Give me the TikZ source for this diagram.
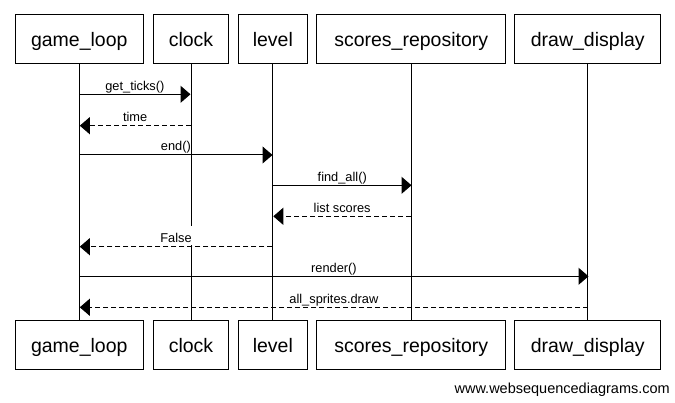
\documentclass[tikz,border=0pt]{standalone}
\usepackage{fontspec}
\setmainfont{Liberation Sans}
\usetikzlibrary{arrows.meta}
\tikzset{
  actor/.style={draw=black, line width=1pt, fill=white, minimum height=48.7pt, inner sep=0pt,
     font=\fontsize{19.5}{22}\selectfont, text height=18pt, text depth=3.2pt},
  lifeline/.style={draw=black, line width=1pt},
  msg/.style={draw=black, line width=1pt, -{Triangle[length=10pt,width=17pt]}, shorten >=0pt},
  reply/.style={msg, dash pattern=on 5pt off 3pt},
  lbl/.style={anchor=base, inner sep=0pt, font=\fontsize{12.8}{14}\selectfont},
  lblbg/.style={lbl, fill=white, inner xsep=1pt, text height=16.7pt, text depth=2.3pt},
}
\begin{document}
\begin{tikzpicture}[x=1pt,y=-1pt]
\useasboundingbox (0,0) rectangle (675,403);
% top actors
\node[actor, minimum width=128pt] (glT) at (79.3,39.3) {game\_loop};
\node[actor, minimum width=75.4pt] (ckT) at (191,39.3) {clock};
\node[actor, minimum width=69pt] (lvT) at (272.8,39.3) {level};
\node[actor, minimum width=189pt] (srT) at (411.2,39.3) {scores\_repository};
\node[actor, minimum width=145.7pt] (ddT) at (587.8,39.3) {draw\_display};
% bottom actors
\node[actor, minimum width=128pt] (glB) at (79.3,344.8) {game\_loop};
\node[actor, minimum width=75.4pt] (ckB) at (191,344.8) {clock};
\node[actor, minimum width=69pt] (lvB) at (272.8,344.8) {level};
\node[actor, minimum width=189pt] (srB) at (411.2,344.8) {scores\_repository};
\node[actor, minimum width=145.7pt] (ddB) at (587.8,344.8) {draw\_display};
% lifelines
\draw[lifeline] (glT.south) -- (glB.north);
\draw[lifeline] (ckT.south) -- (ckB.north);
\draw[lifeline] (lvT.south) -- (lvB.north);
\draw[lifeline] (srT.south) -- (srB.north);
\draw[lifeline] (ddT.south) -- (ddB.north);
% message endpoints
\coordinate (gl1) at (79.3,94.3);  \coordinate (ck1) at (190.5,94.3);
\coordinate (ck2) at (190.5,125.7); \coordinate (gl2) at (79.8,125.7);
\coordinate (gl3) at (79.3,155);   \coordinate (lv3) at (272.5,155);
\coordinate (lv4) at (273,185.3);  \coordinate (sr4) at (411.5,185.3);
\coordinate (sr5) at (411,216.3);  \coordinate (lv5) at (273.3,216.3);
\coordinate (lv6) at (272.3,246.7); \coordinate (gl6) at (79.8,246.7);
\coordinate (gl7) at (79.3,276.3); \coordinate (dd7) at (588.5,276.3);
\coordinate (dd8) at (588,307.3);  \coordinate (gl8) at (79.8,307.3);
% messages
\draw[msg] (gl1) -- node[lbl, yshift=4pt] (m1) {get\_ticks()} (ck1);
\draw[reply] (ck2) -- node[lbl, yshift=4pt] (m2) {time} (gl2);
\draw[msg] (gl3) -- node[lbl, yshift=4pt] (m3) {end()} (lv3);
\draw[msg] (lv4) -- node[lbl, yshift=4pt] (m4) {find\_all()} (sr4);
\draw[reply] (sr5) -- node[lbl, yshift=4pt] (m5) {list scores} (lv5);
\draw[reply] (lv6) -- node[lblbg, yshift=4pt] (m6) {False} (gl6);
\draw[msg] (gl7) -- node[lbl, yshift=4pt] (m7) {render()} (dd7);
\draw[reply] (dd8) -- node[lbl, yshift=4pt] (m8) {all\_sprites.draw} (gl8);
% watermark
\node[anchor=base east, inner sep=0pt, font=\fontsize{14.5}{16}\selectfont] (wm) at (670,393) {www.websequencediagrams.com};
\end{tikzpicture}
\end{document}
